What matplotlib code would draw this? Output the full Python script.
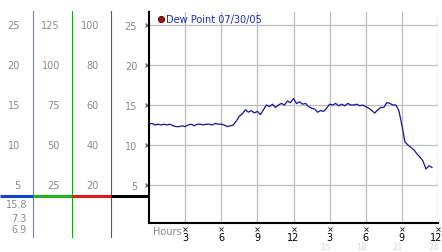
import matplotlib.pyplot as plt
from matplotlib.transforms import blended_transform_factory, ScaledTranslation

# dew point, one reading every quarter hour from midnight
hours = [i * 0.25 for i in range(95)]
dew_point = [
    12.6, 12.7, 12.5, 12.6, 12.5, 12.6, 12.5, 12.6, 12.4,
    12.3, 12.3, 12.4, 12.3,
    12.5, 12.6, 12.4, 12.6, 12.6, 12.5, 12.6, 12.6, 12.5, 12.7, 12.6, 12.6, 12.5,
    12.3, 12.4, 12.5, 13.0, 13.6, 13.9, 14.4, 14.1, 14.3, 14.0, 14.2, 13.8,
    14.4, 15.0, 14.8, 15.1, 14.7, 15.0, 15.2, 15.0, 15.5, 15.3, 15.8, 15.2,
    15.4, 15.1, 15.2, 14.8, 14.6, 14.5, 14.1, 14.3, 14.2, 14.6, 15.1, 15.0,
    15.2, 14.9, 15.1, 14.9, 15.2, 15.0, 15.0, 15.1, 14.9, 15.0, 14.8, 14.6,
    14.3, 14.0, 14.4, 14.7, 14.7, 15.3, 15.2, 15.0, 15.0, 14.3, 12.5, 10.4,
    10.0, 9.7, 9.4, 8.9, 8.5, 8.0, 7.0, 7.4, 7.2,
]

hour_ticks = [3, 6, 9, 12, 15, 18, 21, 24]
hour_labels = ['3', '6', '9', '12', '3', '6', '9', '12']
pm_labels = ['15', '18', '21', '24']
dew_ticks = [5, 10, 15, 20, 25]

# the other scales on the left
scale_a = ['5', '10', '15', '20', '25']
scale_b = ['25', '50', '75', '100', '125']
scale_c = ['20', '40', '60', '80', '100']
stats = ['15.8', '7.3', '6.9']

W, H = 442, 253
fig = plt.figure(figsize=(W / 100, H / 100), dpi=100)
fig.patch.set_facecolor('white')

y_lo, y_hi = 0.25, 26.625
pos = [149 / W, (H - 224) / H, 289 / W, 211 / H]
ax = fig.add_axes(pos)
ax.plot(hours, dew_point, color='#1414a0', lw=0.9)
ax.set_xlim(0, 24)
ax.set_ylim(y_lo, y_hi)
ax.grid(True, color='#bdbdbd', lw=0.9)
ax.set_axisbelow(True)
for s in ['top', 'right']:
    ax.spines[s].set_visible(False)
for s in ['left', 'bottom']:
    ax.spines[s].set_linewidth(1.5)
ax.set_xticks(hour_ticks)
ax.set_xticklabels(hour_labels)
ax.set_yticks(dew_ticks)
ax.set_yticklabels([str(v) for v in dew_ticks])
ax.tick_params(axis='x', length=0, pad=6.5, labelsize=7, labelcolor='black')
ax.tick_params(axis='y', length=0, pad=8.5, labelsize=7, labelcolor='#8a8a8a')

# last label would fall off the edge, pull it in
last = ax.get_xticklabels()[-1]
last.set_horizontalalignment('right')
last.set_transform(last.get_transform() + ScaledTranslation(4 / 100, 0, fig.dpi_scale_trans))

# little x marks in place of ticks
ax.plot([-0.17] * len(dew_ticks), dew_ticks, ls='none', marker='x', ms=2.5,
        mew=0.7, color='#404040', clip_on=False)
ax.plot(hour_ticks, [-0.5] * len(hour_ticks), ls='none', marker='x', ms=2.5,
        mew=0.7, color='#404040', clip_on=False)

tr = blended_transform_factory(ax.transData, ax.transAxes)
for h, lab in zip(hour_ticks[4:], pm_labels):
    ax.text(h + 0.05, -0.113, lab, transform=tr, ha='right', va='center',
            fontsize=6, color='#d8d8d8')
ax.text(0.3, -0.8, 'Hours', ha='left', va='center', fontsize=7,
        color='#8a8a8a', clip_on=False)

# legend
ax.plot([1.0], [25.7], marker='o', ms=4.5, color='#a01010', mec='#500000',
        mew=0.6, clip_on=False)
ax.text(1.45, 25.7, 'Dew Point 07/30/05', ha='left', va='center',
        fontsize=7, color='#1c2cc0')

# left panel with the other scales
lax = fig.add_axes([0, pos[1], 149 / W, pos[3]])
lax.set_xlim(0, 149)
lax.set_ylim(y_lo, y_hi)
lax.axis('off')
for x, labels in zip([20, 60, 99], [scale_a, scale_b, scale_c]):
    for v, lab in zip(dew_ticks, labels):
        lax.text(x, v, lab, ha='right', va='center', fontsize=7,
                 color='#8a8a8a')
for v, lab in zip([2.6, 0.9, -0.5], stats):
    lax.text(27, v, lab, ha='right', va='center', fontsize=7,
             color='#8a8a8a', clip_on=False)

for x, c in zip([33, 72, 111], ['#3399dd', '#20a020', '#c03030']):
    lax.plot([x, x], [26.75, -1.5], color=c, lw=0.8, clip_on=False)
for x0, x1, c in zip([0, 33, 72, 111], [33, 72, 111, 149],
                     ['#1040d8', '#20b020', '#e01818', 'black']):
    lax.plot([x0, x1], [3.6, 3.6], color=c, lw=2.2, solid_capstyle='butt',
             clip_on=False)

fig.savefig('out.png', dpi=100, facecolor='white')
